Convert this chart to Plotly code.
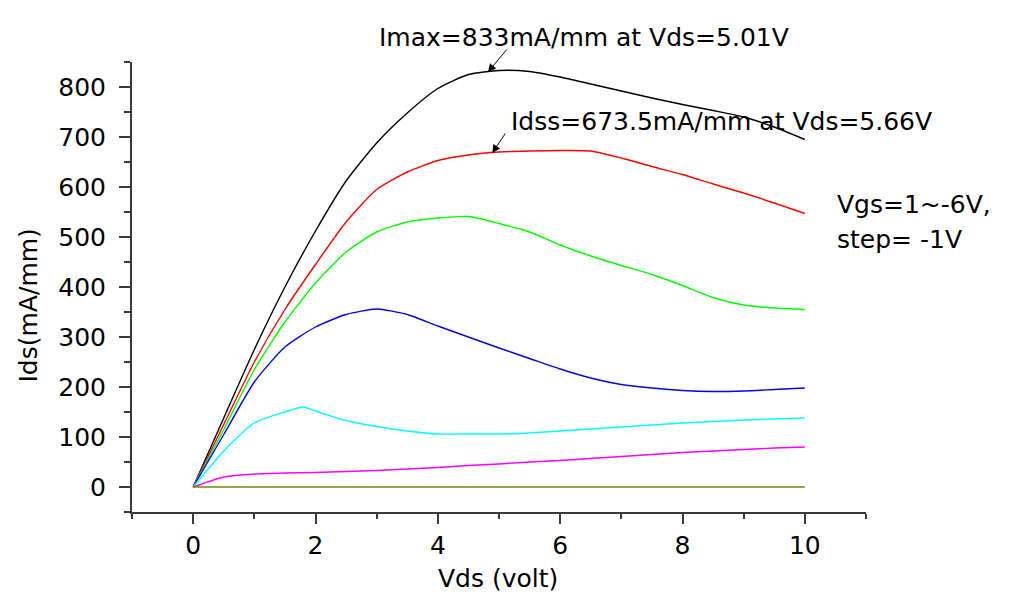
import plotly.graph_objects as go

# Vds values (volt)
vds = [0, 0.5, 1, 1.5, 2, 2.5, 3, 3.5, 4, 4.5, 5, 5.5, 6, 6.5, 7, 7.5, 8, 8.5, 9, 9.5, 10]
vds_cyan = [0, 0.5, 1, 1.5, 1.8, 2, 2.5, 3, 3.5, 4, 4.5, 5, 5.5, 6, 6.5, 7, 7.5, 8, 8.5, 9, 9.5, 10]

# Ids (mA/mm) for Vgs = 1 ... -6 V
ids_vgs_p1 = [0, 138, 275, 400, 512, 612, 688, 748, 797, 825, 833, 831, 820, 806, 792, 778, 765, 753, 740, 720, 695]
ids_vgs_0 = [0, 125, 250, 355, 445, 530, 595, 630, 653, 664, 670, 672, 673, 672, 658, 641, 625, 606, 588, 568, 547]
ids_vgs_m1 = [0, 115, 235, 330, 408, 470, 510, 530, 538, 541, 527, 510, 484, 462, 443, 425, 403, 379, 364, 358, 355]
ids_vgs_m2 = [0, 105, 210, 280, 320, 345, 356, 345, 322, 300, 278, 257, 236, 218, 205, 198, 193, 191, 192, 195, 198]
ids_vgs_m3 = [0, 72, 128, 150, 160, 152, 133, 121, 112, 106, 106, 106, 108, 112, 116, 120, 124, 128, 131, 134, 136, 138]
ids_vgs_m4 = [0, 20, 26, 28, 29, 31, 33, 36, 39, 43, 46, 50, 53, 57, 61, 65, 69, 72, 75, 78, 80]
ids_vgs_m5 = [0, 0, 0, 0, 0, 0, 0, 0, 0, 0, 0, 0, 0, 0, 0, 0, 0, 0, 0, 0, 0]

series = [
    (vds, ids_vgs_p1, "#000000", "Vgs=1V"),
    (vds, ids_vgs_0, "#FF0000", "Vgs=0V"),
    (vds, ids_vgs_m1, "#00FF00", "Vgs=-1V"),
    (vds, ids_vgs_m2, "#0000FF", "Vgs=-2V"),
    (vds_cyan, ids_vgs_m3, "#00FFFF", "Vgs=-3V"),
    (vds, ids_vgs_m4, "#FF00FF", "Vgs=-4V"),
    (vds, ids_vgs_m5, "#808000", "Vgs=-5V"),
]

FONT = "DejaVu Sans"

fig = go.Figure()
for xs, ys, col, name in series:
    fig.add_trace(go.Scatter(x=xs, y=ys, mode="lines", name=name, line_shape="spline",
                             line=dict(color=col, width=1.4, smoothing=0.6), showlegend=False))

axis_common = dict(
    showgrid=False, zeroline=False, showline=True, linecolor="#3a3a3a", linewidth=2,
    ticks="outside", tickcolor="#3a3a3a", tickwidth=2, mirror=False,
    tickfont=dict(family=FONT, size=25, color="#000000"),
)

fig.update_xaxes(range=[-1, 11], tick0=0, dtick=2, ticklen=10,
                 minor=dict(dtick=1, tick0=-1, ticks="outside", ticklen=5, tickcolor="#3a3a3a", tickwidth=2),
                 **axis_common)
fig.update_yaxes(range=[-50, 850], tick0=0, dtick=100, ticklen=11,
                 minor=dict(dtick=50, tick0=-50, ticks="outside", ticklen=6, tickcolor="#3a3a3a", tickwidth=2),
                 ticklabelstandoff=8,
                 **axis_common)

ann_font = dict(family=FONT, size=25, color="#000000")
annotations = [
    dict(x=3.01, y=1.0544, xref="x", yref="paper", text="Imax=833mA/mm at Vds=5.01V",
         showarrow=False, xanchor="left", yanchor="middle", font=ann_font),
    dict(x=4.82, y=830, xref="x", yref="y", text="", showarrow=True,
         ax=20, ay=-24, arrowhead=2, arrowsize=1.6, arrowwidth=1, arrowcolor="#000000"),
    dict(x=5.17, y=731, xref="x", yref="y", text="Idss=673.5mA/mm at Vds=5.66V",
         showarrow=False, xanchor="left", yanchor="middle", font=ann_font),
    dict(x=4.89, y=668, xref="x", yref="y", text="", showarrow=True,
         ax=14, ay=-21, arrowhead=2, arrowsize=1.6, arrowwidth=1, arrowcolor="#000000"),
    dict(x=10.49, y=565, xref="x", yref="y", text="Vgs=1~-6V,",
         showarrow=False, xanchor="left", yanchor="middle", font=ann_font),
    dict(x=10.49, y=495, xref="x", yref="y", text="step= -1V",
         showarrow=False, xanchor="left", yanchor="middle", font=ann_font),
    dict(x=0, y=363, xref="paper", yref="y", xshift=-104, text="Ids(mA/mm)", textangle=-90,
         showarrow=False, xanchor="center", yanchor="middle", font=ann_font),
    dict(x=4.98, y=0, xref="x", yref="paper", yshift=-66, text="Vds (volt)",
         showarrow=False, xanchor="center", yanchor="middle", font=ann_font),
]

fig.update_layout(
    width=1015, height=601,
    margin=dict(l=132, r=149, t=62, b=89),
    paper_bgcolor="white", plot_bgcolor="white",
    annotations=annotations,
    showlegend=False,
)

fig.write_html("out.html")
